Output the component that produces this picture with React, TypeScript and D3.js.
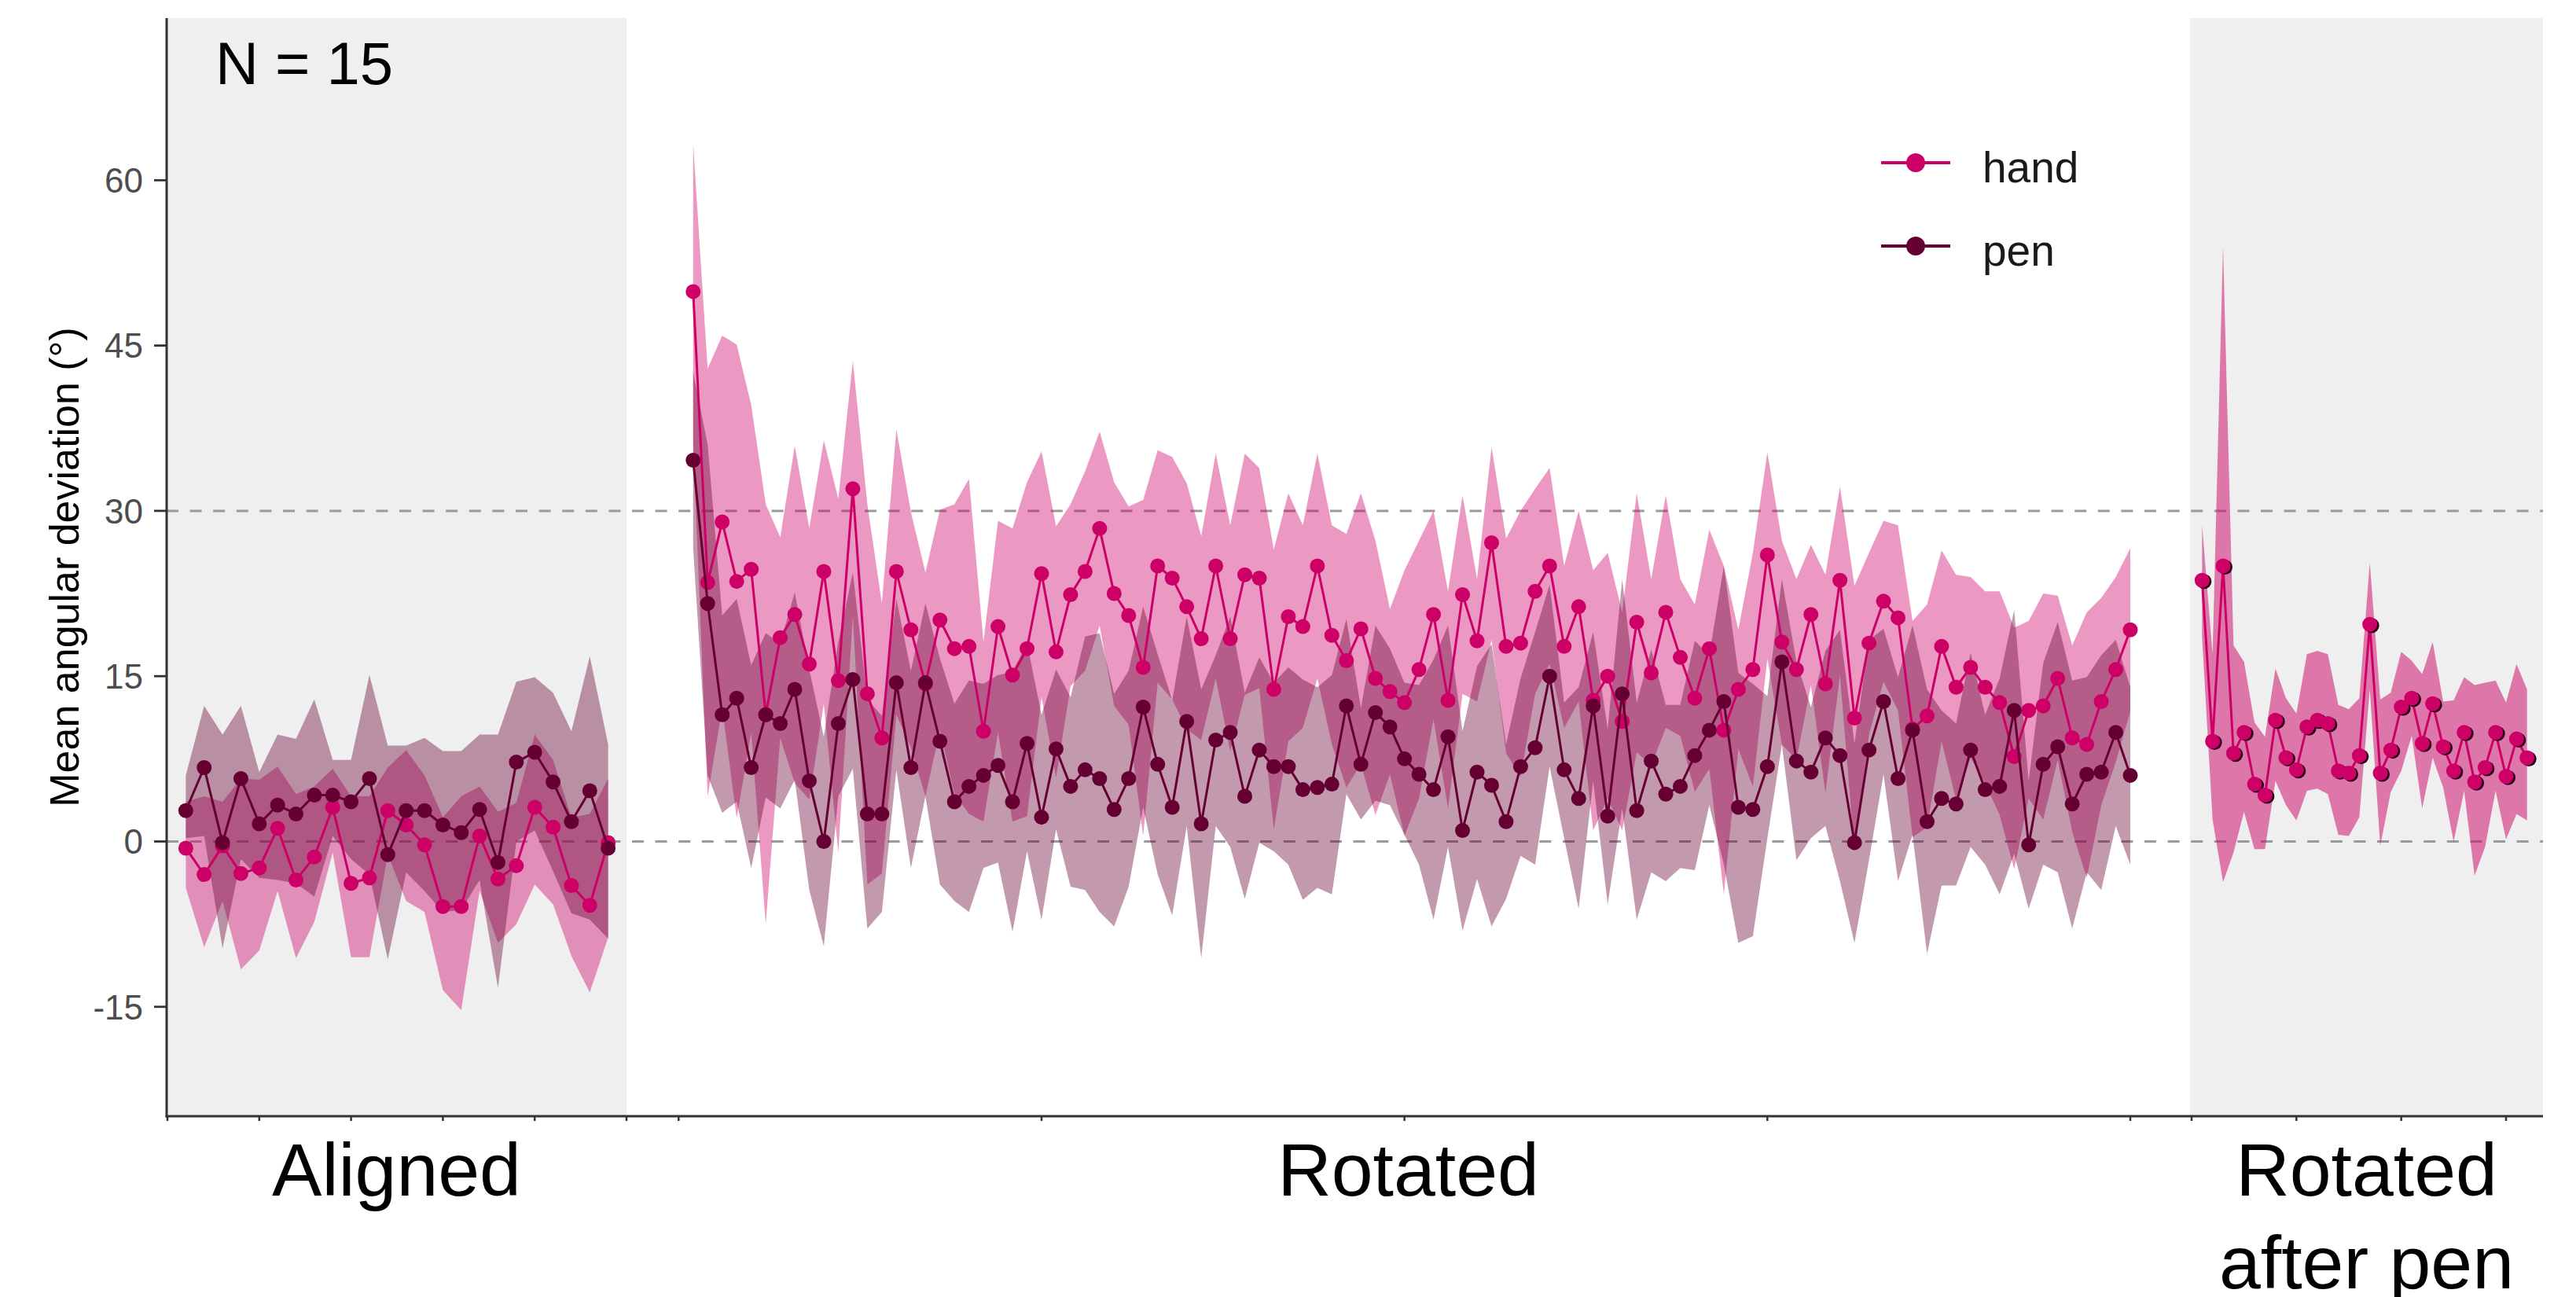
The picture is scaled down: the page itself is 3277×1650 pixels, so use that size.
import React, { useEffect } from 'react';
import * as d3 from 'd3';

// ---------- data ----------
// Aligned block (trials 1..24)
const alignedHandMean = [-0.6, -3.0, -0.4, -2.9, -2.4, 1.2, -3.5, -1.4, 3.1, -3.8, -3.3, 2.8, 1.5, -0.3, -5.9, -5.9, 0.5, -3.4, -2.2, 3.1, 1.3, -4.0, -5.8, -0.1];
const alignedHandLo = [-4.2, -9.6, -5.4, -11.6, -9.9, -4.5, -10.6, -7.3, -1.0, -10.5, -10.5, -1.2, -5.4, -6.4, -13.5, -15.3, -4.5, -9.2, -7.5, -3.9, -5.7, -10.4, -13.7, -8.7];
const alignedHandHi = [3.6, 4.1, 3.6, 5.7, 5.6, 6.8, 4.3, 5.0, 6.6, 4.1, 4.1, 6.7, 8.3, 6.0, 2.2, 4.1, 5.0, 2.7, 3.5, 9.7, 7.4, 2.2, 2.5, 5.7];
const alignedPenMean = [2.8, 6.7, -0.1, 5.7, 1.6, 3.3, 2.5, 4.2, 4.2, 3.6, 5.7, -1.2, 2.8, 2.8, 1.5, 0.8, 2.9, -1.9, 7.2, 8.1, 5.4, 1.8, 4.6, -0.6];
const alignedPenLo = [0.3, 0.5, -9.7, -1.6, -3.3, -3.5, -3.8, -5.0, 0.5, -1.6, -3.0, -10.7, -2.8, -4.5, -6.4, -6.2, -3.5, -13.3, 0.0, 1.0, -2.7, -6.5, -7.1, -8.8];
const alignedPenHi = [6.0, 12.3, 9.7, 12.3, 6.3, 9.7, 9.3, 12.9, 7.4, 7.4, 15.1, 8.7, 8.7, 9.4, 8.2, 8.2, 9.7, 9.7, 14.5, 14.9, 13.5, 10.0, 16.8, 8.8];

// Rotated block (trials 1..100)
const rotatedHandMean = [
  49.9, 23.5, 29.0, 23.6, 24.7, 11.5, 18.5, 20.6, 16.1, 24.5,
  14.6, 32.0, 13.4, 9.4, 24.5, 19.2, 14.3, 20.1, 17.5, 17.7,
  10.0, 19.5, 15.1, 17.5, 24.3, 17.2, 22.4, 24.5, 28.4, 22.5,
  20.5, 15.8, 25.0, 23.9, 21.3, 18.4, 25.0, 18.4, 24.2, 23.9,
  13.8, 20.4, 19.5, 25.0, 18.7, 16.4, 19.3, 14.8, 13.6, 12.6,
  15.6, 20.6, 12.8, 22.4, 18.2, 27.1, 17.7, 18.0, 22.7, 25.0,
  17.7, 21.3, 12.8, 15.0, 10.9, 19.9, 15.3, 20.8, 16.7, 13.0,
  17.5, 10.1, 13.8, 15.6, 26.0, 18.1, 15.6, 20.6, 14.3, 23.7,
  11.2, 18.0, 21.8, 20.3, 10.2, 11.4, 17.7, 14.0, 15.8, 14.0,
  12.6, 7.7, 11.9, 12.3, 14.8, 9.4, 8.8, 12.7, 15.6, 19.2,
];
const rotatedHandHi = [
  63.3, 42.9, 45.9, 45.1, 39.6, 30.6, 27.6, 35.9, 28.4, 36.4,
  31.1, 43.6, 30.6, 21.6, 37.4, 29.9, 24.4, 30.1, 30.6, 32.9,
  18.1, 29.1, 28.4, 32.6, 35.4, 28.6, 30.6, 33.6, 37.2, 32.6,
  30.4, 31.0, 35.5, 34.9, 32.5, 27.7, 35.2, 28.7, 35.2, 33.9,
  26.5, 31.6, 28.7, 35.2, 28.7, 27.9, 31.6, 27.3, 21.1, 24.6,
  27.3, 30.0, 22.7, 31.4, 23.8, 35.8, 27.5, 30.0, 32.0, 33.9,
  25.0, 30.0, 24.6, 26.2, 20.8, 31.6, 23.8, 31.4, 23.8, 21.5,
  28.3, 25.0, 19.2, 26.2, 35.3, 27.3, 23.8, 26.9, 24.2, 32.2,
  23.2, 26.2, 29.1, 28.7, 20.0, 21.5, 26.4, 24.2, 24.0, 22.7,
  22.7, 19.4, 20.0, 22.5, 22.3, 17.8, 20.8, 22.1, 24.0, 26.6,
];
const rotatedHandLo = [
  36.0, 4.1, 12.1, 2.1, 9.9, -7.5, 9.4, 5.3, 3.8, 12.5,
  -1.0, 20.5, -3.9, -2.9, 11.5, 8.5, 4.1, 10.1, 4.3, 2.5,
  1.8, 9.9, 1.8, 2.3, 13.1, 5.8, 14.1, 15.5, 19.6, 12.3,
  10.6, 0.5, 14.4, 12.9, 10.2, 9.2, 14.8, 8.2, 13.3, 13.9,
  1.1, 9.1, 10.3, 14.8, 8.8, 4.9, 7.0, 2.4, 6.1, 0.5,
  3.9, 11.1, 3.0, 13.4, 12.7, 18.3, 8.0, 5.9, 13.4, 16.1,
  10.3, 12.7, 1.0, 3.9, 1.0, 8.1, 6.9, 10.3, 9.6, 4.5,
  6.6, -4.8, 8.4, 5.0, 16.6, 8.8, 7.4, 14.2, 4.4, 15.1,
  -0.9, 9.7, 14.5, 11.9, 0.4, 1.3, 9.1, 3.8, 7.6, 5.3,
  2.4, -2.5, 3.9, 2.0, 7.4, 0.9, -3.3, 3.3, 7.2, 11.8,
];
const rotatedPenMean = [
  34.6, 21.6, 11.5, 13.0, 6.7, 11.5, 10.7, 13.8, 5.5, 0.0,
  10.7, 14.7, 2.5, 2.5, 14.4, 6.7, 14.4, 9.1, 3.6, 5.0,
  6.0, 6.9, 3.6, 8.9, 2.2, 8.4, 5.0, 6.5, 5.7, 2.9,
  5.7, 12.2, 7.0, 3.1, 10.9, 1.6, 9.2, 9.9, 4.1, 8.3,
  6.8, 6.8, 4.7, 4.9, 5.2, 12.3, 7.0, 11.7, 10.4, 7.5,
  6.1, 4.7, 9.5, 1.0, 6.3, 5.1, 1.8, 6.8, 8.5, 15.0,
  6.5, 3.9, 12.3, 2.3, 13.4, 2.8, 7.3, 4.3, 5.0, 7.8,
  10.1, 12.7, 3.1, 2.9, 6.8, 16.3, 7.3, 6.3, 9.4, 7.8,
  -0.1, 8.3, 12.7, 5.7, 10.1, 1.8, 3.9, 3.4, 8.3, 4.7,
  5.0, 11.9, -0.3, 7.0, 8.6, 3.4, 6.1, 6.3, 9.9, 6.0,
];
const rotatedPenHi = [
  42.6, 36.0, 20.5, 22.0, 16.0, 18.9, 18.0, 22.6, 15.6, 9.5,
  18.1, 24.4, 12.9, 11.4, 22.0, 15.5, 21.6, 16.6, 12.5, 14.6,
  14.3, 15.1, 15.4, 18.0, 11.5, 15.6, 13.1, 18.6, 18.9, 13.4,
  15.5, 21.3, 17.0, 12.8, 20.4, 13.8, 16.9, 20.4, 13.5, 16.7,
  14.4, 15.8, 14.7, 14.0, 15.1, 20.2, 12.1, 19.6, 17.5, 14.4,
  14.2, 16.5, 19.6, 10.0, 15.9, 17.9, 8.8, 14.8, 19.0, 23.3,
  12.6, 14.0, 19.0, 10.2, 23.8, 12.6, 17.4, 12.4, 12.4, 18.2,
  16.9, 25.0, 15.3, 14.3, 13.2, 23.8, 16.3, 12.2, 17.3, 19.2,
  8.9, 18.3, 19.3, 14.9, 19.6, 13.8, 11.9, 10.7, 17.1, 11.5,
  14.8, 21.0, 5.5, 16.2, 19.9, 14.6, 14.9, 16.9, 18.3, 14.0,
];
const rotatedPenLo = [
  26.6, 6.0, 2.6, 3.6, -2.4, 4.0, 3.0, 5.6, -4.4, -9.5,
  4.1, 6.6, -7.9, -6.4, 6.5, -2.4, 4.1, -3.9, -5.4, -6.4,
  -2.4, -1.9, -8.2, -0.9, -7.1, 1.1, -4.1, -4.4, -6.4, -7.7,
  -4.1, 3.1, -3.0, -6.7, 1.4, -10.6, 1.4, -0.5, -5.2, -0.1,
  -0.9, -2.1, -5.3, -4.2, -4.8, 4.3, 2.0, 3.7, 3.3, 0.6,
  -2.1, -7.1, -0.5, -8.1, -3.4, -7.7, -5.2, -1.3, -2.1, 6.8,
  0.3, -6.1, 5.5, -5.7, 3.0, -7.1, -2.8, -3.6, -2.4, -2.6,
  3.3, -2.1, -9.2, -8.6, 0.3, 8.8, -1.7, 0.3, 1.4, -3.6,
  -9.2, -1.7, 6.1, -3.6, 0.6, -10.2, -4.0, -4.0, -0.5, -2.1,
  -4.8, -1.1, -6.1, -2.1, -2.8, -7.9, -2.8, -4.4, 1.4, -2.1,
];

// Rotated after pen block (trials 1..32, hand)
const afterHandMean = [23.7, 9.1, 25.0, 8.0, 9.9, 5.2, 4.2, 11.0, 7.6, 6.5, 10.4, 11.0, 10.7, 6.4, 6.2, 7.8, 19.7, 6.2, 8.3, 12.2, 13.0, 8.9, 12.5, 8.6, 6.4, 9.9, 5.4, 6.7, 9.9, 5.9, 9.3, 7.6];
const afterHandHi = [28.7, 17.0, 54.0, 17.8, 16.3, 10.8, 9.5, 15.7, 13.0, 11.6, 17.0, 17.3, 17.0, 12.4, 12.0, 13.0, 25.3, 12.9, 13.5, 17.2, 16.4, 15.2, 18.1, 12.7, 12.8, 14.9, 14.2, 14.4, 14.6, 12.6, 16.1, 13.8];
const afterHandLo = [18.5, 2.0, -3.7, -1.0, 2.7, -0.7, -0.7, 5.5, 3.3, 1.9, 4.6, 4.8, 4.3, 0.6, 0.5, 2.2, 13.8, -0.4, 4.5, 6.4, 9.6, 3.0, 7.6, 4.9, 0.0, 4.6, -3.1, -0.5, 4.6, 0.2, 2.5, 1.9];

const yTicks = [-15, 0, 15, 30, 45, 60];
const refLines = [0, 30];
const alignedTicks = [0, 5, 10, 15, 20, 25];
const rotatedTicks = [0, 25, 50, 75, 100];
const afterTicks = [0, 10, 20, 30];
const legendItems = ['hand', 'pen'];
const blockLabels = [['Aligned'], ['Rotated'], ['Rotated', 'after pen']];

const HAND = '#CC0066';
const PEN = '#660033';
const FONT = '"Liberation Sans", Arial, Helvetica, sans-serif';

type Scale = d3.ScaleLinear<number, number>;

function Series({ x, y, mean, lo, hi, color, alpha, shadow }: {
  x: Scale; y: Scale; mean: number[]; lo: number[]; hi: number[]; color: string; alpha: number; shadow?: boolean;
}) {
  const idx = mean.map((_, i) => i);
  const area = d3.area<number>().x(i => x(i + 1)).y0(i => y(lo[i])).y1(i => y(hi[i]));
  return <path d={area(idx) || ''} fill={color} fillOpacity={alpha} stroke="none" />;
}

function LineAndPoints({ x, y, mean, color, shadow }: {
  x: Scale; y: Scale; mean: number[]; color: string; shadow?: boolean;
}) {
  const idx = mean.map((_, i) => i);
  const line = d3.line<number>().x(i => x(i + 1)).y(i => y(mean[i]));
  return (
    <g>
      <path d={line(idx) || ''} fill="none" stroke={color} strokeWidth={3} />
      {shadow && idx.map(i => (
        <circle key={'s' + i} cx={x(i + 1) + 2.5} cy={y(mean[i]) + 1.5} r={9.5} fill="#2a0016" />
      ))}
      {idx.map(i => (
        <circle key={i} cx={x(i + 1)} cy={y(mean[i])} r={9.5} fill={color} />
      ))}
    </g>
  );
}

export default function App() {
  useEffect(() => {
    document.body.style.margin = '0';
    document.body.style.overflow = 'hidden';
  }, []);

  const left = 212, right = 3235, top = 23, bottom = 1420;
  const y = d3.scaleLinear().domain([-25, 75]).range([1421, 19]);
  const xA = d3.scaleLinear().domain([0, 25]).range([213, 797]);
  const xR = d3.scaleLinear().domain([0, 100]).range([863.3, 2710]);
  const xP = d3.scaleLinear().domain([0, 30]).range([2788, 3188]);
  const panels = [[left, 797], [797, 2786], [2786, right]];

  return (
    <svg width={3277} height={1650} style={{ position: 'absolute', left: 0, top: 0, display: 'block' }}
      xmlns="http://www.w3.org/2000/svg" fontFamily={FONT}>
      <rect x={0} y={0} width={3277} height={1650} fill="#FFFFFF" />
      {/* shaded blocks */}
      <rect x={panels[0][0]} y={top} width={panels[0][1] - panels[0][0]} height={bottom - top} fill="#EFEFEF" />
      <rect x={panels[2][0]} y={top} width={panels[2][1] - panels[2][0]} height={bottom - top} fill="#EFEFEF" />

      {/* reference lines */}
      {refLines.map(v => (
        <line key={v} x1={left} x2={right} y1={y(v)} y2={y(v)} stroke="#9A9A9A" strokeWidth={3} strokeDasharray="15 14.6" />
      ))}

      {/* ribbons */}
      <Series x={xA} y={y} mean={alignedHandMean} lo={alignedHandLo} hi={alignedHandHi} color={HAND} alpha={0.4} />
      <Series x={xA} y={y} mean={alignedPenMean} lo={alignedPenLo} hi={alignedPenHi} color={PEN} alpha={0.4} />
      <Series x={xR} y={y} mean={rotatedHandMean} lo={rotatedHandLo} hi={rotatedHandHi} color={HAND} alpha={0.4} />
      <Series x={xR} y={y} mean={rotatedPenMean} lo={rotatedPenLo} hi={rotatedPenHi} color={PEN} alpha={0.4} />
      <Series x={xP} y={y} mean={afterHandMean} lo={afterHandLo} hi={afterHandHi} color={HAND} alpha={0.5} />

      {/* lines & points */}
      <LineAndPoints x={xA} y={y} mean={alignedHandMean} color={HAND} />
      <LineAndPoints x={xA} y={y} mean={alignedPenMean} color={PEN} />
      <LineAndPoints x={xR} y={y} mean={rotatedHandMean} color={HAND} />
      <LineAndPoints x={xR} y={y} mean={rotatedPenMean} color={PEN} />
      <LineAndPoints x={xP} y={y} mean={afterHandMean} color={HAND} shadow />

      {/* axes */}
      <line x1={left} x2={left} y1={top} y2={bottom + 1.5} stroke="#333333" strokeWidth={3} />
      <line x1={left - 1.5} x2={right} y1={bottom} y2={bottom} stroke="#333333" strokeWidth={3} />
      {yTicks.map(v => (
        <g key={v}>
          <line x1={196} x2={left} y1={y(v)} y2={y(v)} stroke="#333333" strokeWidth={2.8} />
          <text x={182} y={y(v)} dy="0.36em" textAnchor="end" fontSize={44} fill="#4D4D4D">{v}</text>
        </g>
      ))}
      {alignedTicks.map(t => (
        <line key={'a' + t} x1={xA(t)} x2={xA(t)} y1={bottom} y2={bottom + 6} stroke="#333333" strokeWidth={2.5} />
      ))}
      {rotatedTicks.map(t => (
        <line key={'r' + t} x1={xR(t)} x2={xR(t)} y1={bottom} y2={bottom + 6} stroke="#333333" strokeWidth={2.5} />
      ))}
      {afterTicks.map(t => (
        <line key={'p' + t} x1={xP(t)} x2={xP(t)} y1={bottom} y2={bottom + 6} stroke="#333333" strokeWidth={2.5} />
      ))}

      {/* y title */}
      <text transform={`translate(100, ${(top + bottom) / 2}) rotate(-90)`} textAnchor="middle" fontSize={52} fill="#000000">
        Mean angular deviation (°)
      </text>

      {/* N label */}
      <text x={274} y={107} fontSize={76} fill="#000000">N = 15</text>

      {/* legend */}
      {legendItems.map((name, i) => {
        const cy = 207 + i * 106;
        const col = name === 'hand' ? HAND : PEN;
        return (
          <g key={name}>
            <line x1={2393} x2={2481} y1={cy} y2={cy} stroke={col} strokeWidth={4} />
            <circle cx={2437} cy={cy} r={12} fill={col} />
            <text x={2522} y={cy + 25} fontSize={55} fill="#1A1A1A">{name}</text>
          </g>
        );
      })}

      {/* block labels */}
      {blockLabels.map((lines, i) => {
        const cx = (panels[i][0] + panels[i][1]) / 2;
        return (
          <text key={i} textAnchor="middle" fontSize={95} fill="#000000">
            {lines.map((ln, j) => (
              <tspan key={j} x={cx} y={1521 + j * 118}>{ln}</tspan>
            ))}
          </text>
        );
      })}
    </svg>
  );
}
